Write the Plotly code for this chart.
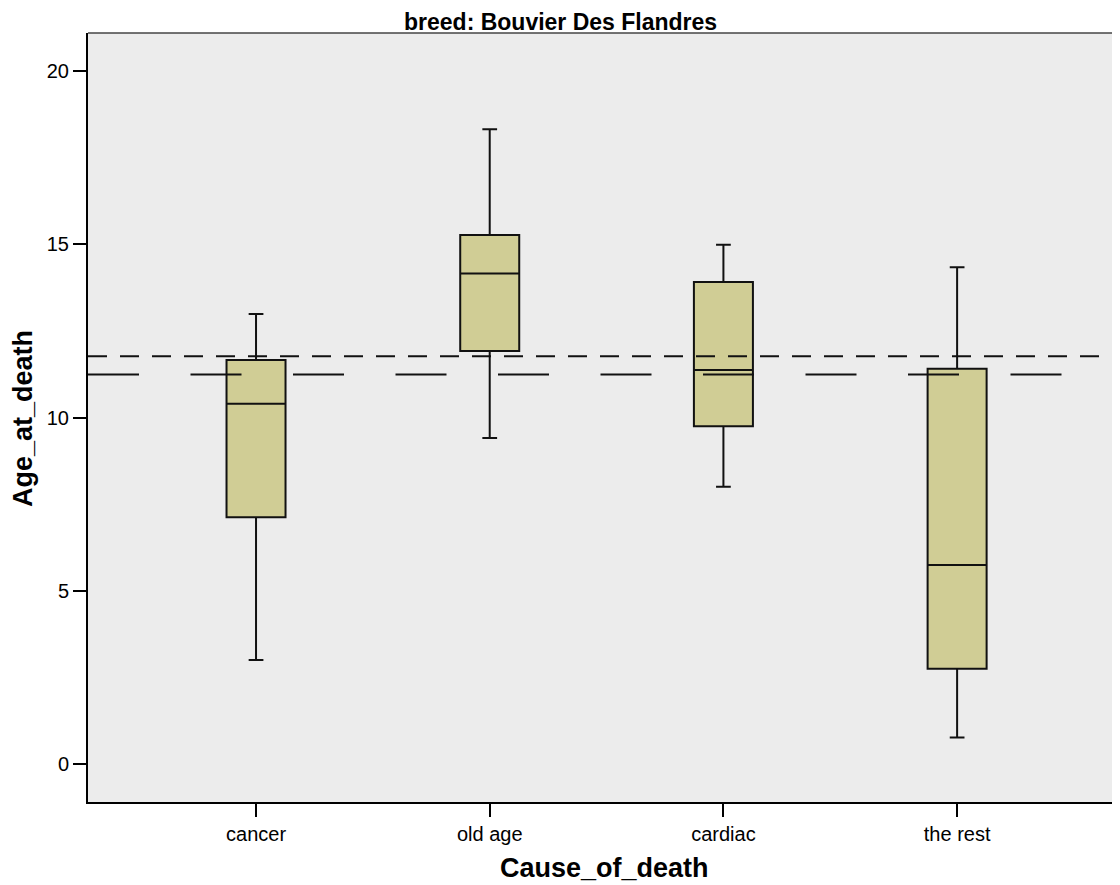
import plotly.graph_objects as go

categories = ["cancer", "old age", "cardiac", "the rest"]
lower_whisker = [3.0, 9.41, 8.0, 0.76]
q1 = [7.12, 11.92, 9.75, 2.75]
median = [10.40, 14.16, 11.37, 5.74]
q3 = [11.66, 15.27, 13.91, 11.41]
upper_whisker = [12.99, 18.32, 14.99, 14.34]
ref_short_dash = 11.77
ref_long_dash = 11.24
y_ticks = [0, 5, 10, 15, 20]

title_text = "breed: Bouvier Des Flandres"
x_title = "Cause_of_death"
y_title = "Age_at_death"

FONT = "Liberation Sans, Arial, sans-serif"

fig = go.Figure()
fig.add_trace(go.Box(
    x=categories,
    q1=q1, median=median, q3=q3,
    lowerfence=lower_whisker, upperfence=upper_whisker,
    width=0.2525, whiskerwidth=0.25,
    fillcolor="#D0CD95",
    line=dict(color="#111111", width=2),
    boxpoints=False,
    hoverinfo="skip",
))

fig.add_shape(type="line", xref="paper", yref="y", x0=0, x1=1,
              y0=ref_short_dash, y1=ref_short_dash, layer="above",
              line=dict(color="#111111", width=2, dash="19px,13px"))
fig.add_shape(type="line", xref="paper", yref="y", x0=0, x1=1,
              y0=ref_long_dash, y1=ref_long_dash, layer="above",
              line=dict(color="#111111", width=2, dash="51px,51.5px"))
# top border
fig.add_shape(type="line", xref="paper", yref="paper", x0=0, x1=1, y0=1, y1=1,
              layer="above", line=dict(color="#444444", width=1.5))

fig.add_annotation(text="<b>%s</b>" % title_text, xref="paper", yref="paper",
                   x=0.4574, y=1.0325, xanchor="center", yanchor="top",
                   showarrow=False, borderpad=0,
                   font=dict(family=FONT, size=23, color="black"))
fig.add_annotation(text="<b>%s</b>" % x_title, xref="paper", yref="paper",
                   x=0.5, y=-0.0858, xanchor="center", yanchor="middle",
                   showarrow=False, font=dict(family=FONT, size=27, color="black"))
fig.add_annotation(text="<b>%s</b>" % y_title, xref="paper", yref="paper",
                   x=-0.063, y=0.4993, xanchor="center", yanchor="middle",
                   textangle=-90,
                   showarrow=False, font=dict(family=FONT, size=27, color="black"))

# page has an 8px body margin, so the figure is 8px smaller and offset by 8px
fig.update_layout(
    width=1112, height=877,
    margin=dict(l=80, r=0, t=25, b=83, pad=0),
    paper_bgcolor="white",
    plot_bgcolor="#ECECEC",
    showlegend=False,
    font=dict(family=FONT, size=20, color="black"),
    xaxis=dict(
        type="category", range=[-0.719, 3.697],
        showline=True, linecolor="black", linewidth=2,
        ticks="outside", ticklen=13, tickwidth=2, tickcolor="black",
        showgrid=False, zeroline=False,
        tickfont=dict(family=FONT, size=20, color="black"),
    ),
    yaxis=dict(
        range=[-1.1, 21.1],
        tickvals=y_ticks,
        showline=True, linecolor="black", linewidth=2,
        ticks="outside", ticklen=13, tickwidth=2, tickcolor="black",
        showgrid=False, zeroline=False,
        tickfont=dict(family=FONT, size=20, color="black"),
    ),
)

fig.write_html("out.html")
